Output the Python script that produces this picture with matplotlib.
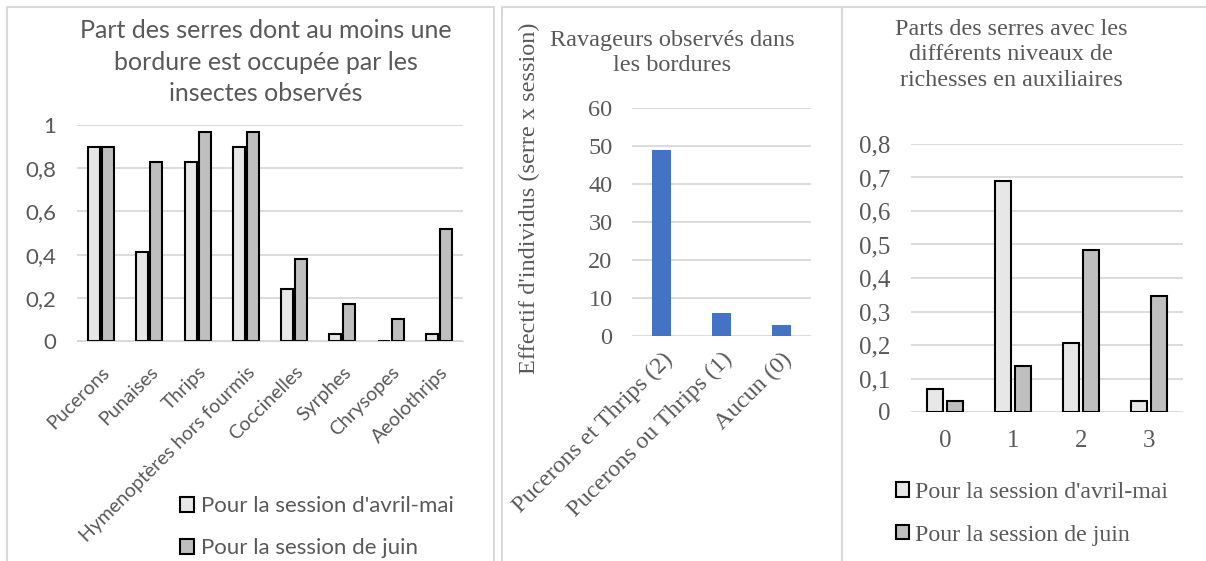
import numpy as np
import matplotlib.pyplot as plt
from matplotlib.lines import Line2D

# data
insectes = ["Pucerons", "Punaises", "Thrips", "Hymenoptères hors fourmis",
            "Coccinelles", "Syrphes", "Chrysopes", "Aeolothrips"]
part_avril_mai = [0.897, 0.414, 0.828, 0.897, 0.241, 0.034, 0.0, 0.034]
part_juin = [0.897, 0.828, 0.966, 0.966, 0.379, 0.172, 0.103, 0.517]

ravageurs = ["Pucerons et Thrips (2)", "Pucerons ou Thrips (1)", "Aucun (0)"]
effectifs = [49, 6, 3]

niveaux = ["0", "1", "2", "3"]
niv_avril_mai = [0.069, 0.690, 0.207, 0.034]
niv_juin = [0.034, 0.138, 0.483, 0.345]

legend_labels = ["Pour la session d'avril-mai", "Pour la session de juin"]

W, H = 1206, 561
GREY_TXT = "#595959"
GRID = "#d9d9d9"
LIGHT = "#e7e7e7"
DARK = "#bfbfbf"
SANS = "Lato"
SERIF = "Liberation Serif"

fig = plt.figure(figsize=(W / 100, H / 100), dpi=100)


def box(x0, y0, x1, y1):
    # pixel box (top-left origin) -> figure fraction rect
    return [x0 / W, 1 - y1 / H, (x1 - x0) / W, (y1 - y0) / H]


def style_axes(ax, font, size, ypad):
    ax.set_axisbelow(True)
    ax.grid(axis="y", color=GRID, linewidth=1.3)
    for s in ax.spines.values():
        s.set_visible(False)
    ax.tick_params(length=0, labelcolor=GREY_TXT, pad=ypad, axis="y")
    ax.tick_params(length=0, labelcolor=GREY_TXT, axis="x")
    for lab in ax.get_yticklabels() + ax.get_xticklabels():
        lab.set_fontfamily(font)
        lab.set_fontsize(size)


# panel frames (top + sides only, bottom is cut off)
for x0, x1 in [(7, 494), (502, 842), (842, 1230)]:
    fig.add_artist(Line2D([x0 / W, x0 / W, x1 / W, x1 / W], [0, 1 - 7 / H, 1 - 7 / H, 0],
                          transform=fig.transFigure, color=GRID, linewidth=1.5))

# ---- panel 1
ax1 = fig.add_axes(box(77, 125, 463, 341))
x = np.arange(len(insectes))
b1 = ax1.bar(x - 0.145, part_avril_mai, 0.25, color=LIGHT, edgecolor="black", linewidth=1.5)
b2 = ax1.bar(x + 0.145, part_juin, 0.25, color=DARK, edgecolor="black", linewidth=1.5)
ax1.set_xlim(-0.5, len(insectes) - 0.5)
ax1.set_ylim(0, 1)
ax1.set_yticks(np.arange(0, 1.01, 0.2))
ax1.set_yticklabels(["0", "0,2", "0,4", "0,6", "0,8", "1"])
ax1.set_xticks(x)
ax1.set_xticklabels(insectes, rotation=45, ha="right", rotation_mode="anchor")
style_axes(ax1, SANS, 16, 15)
for lab in ax1.get_xticklabels():
    lab.set_fontsize(14)
ax1.tick_params(axis="x", pad=16)
ax1.spines["bottom"].set_visible(True)
ax1.spines["bottom"].set_color(GRID)
fig.text(266 / W, 1 - 62 / H, "Part des serres dont au moins une\nbordure est occupée par les\ninsectes observés",
         ha="center", va="center", fontsize=18, family=SANS, color=GREY_TXT, linespacing=1.45)
fig.legend([b1, b2], legend_labels, loc="upper left", bbox_to_anchor=(180 / W, 1 - 496 / H),
           frameon=False, prop={"family": SANS, "size": 16}, labelcolor=GREY_TXT,
           handlelength=0.65, handleheight=0.65, handletextpad=0.3, labelspacing=1.0,
           borderpad=0, borderaxespad=0)

# ---- panel 2
ax2 = fig.add_axes(box(632, 108, 811, 336))
x2 = np.arange(len(ravageurs))
ax2.bar(x2, effectifs, 0.32, color="#4472c4")
ax2.set_xlim(-0.5, len(ravageurs) - 0.5)
ax2.set_ylim(0, 60)
ax2.set_yticks(range(0, 61, 10))
ax2.set_xticks(x2)
ax2.set_xticklabels(ravageurs, rotation=45, ha="right", rotation_mode="anchor")
style_axes(ax2, SERIF, 17.5, 14)
ax2.tick_params(axis="x", pad=9)
ax2.set_ylabel("Effectif d'individus (serre x session)", family=SERIF, fontsize=17.5,
               color=GREY_TXT)
ax2.yaxis.set_label_coords((540 - 632) / 179, (336 - 198) / 228)
fig.text(672 / W, 1 - 53 / H, "Ravageurs observés dans\nles bordures", ha="center", va="center",
         fontsize=17.5, family=SERIF, color=GREY_TXT, linespacing=1.25)

# ---- panel 3
ax3 = fig.add_axes(box(911, 144, 1183, 412))
x3 = np.arange(len(niveaux))
c1 = ax3.bar(x3 - 0.145, niv_avril_mai, 0.235, color=LIGHT, edgecolor="black", linewidth=1.5)
c2 = ax3.bar(x3 + 0.145, niv_juin, 0.235, color=DARK, edgecolor="black", linewidth=1.5)
ax3.set_xlim(-0.5, len(niveaux) - 0.5)
ax3.set_ylim(0, 0.8)
ax3.set_yticks(np.arange(0, 0.81, 0.1))
ax3.set_yticklabels(["0", "0,1", "0,2", "0,3", "0,4", "0,5", "0,6", "0,7", "0,8"])
ax3.set_xticks(x3)
ax3.set_xticklabels(niveaux)
style_axes(ax3, SERIF, 18, 15)
ax3.tick_params(axis="x", pad=13)
fig.text(1011 / W, 1 - 55 / H, "Parts des serres avec les\ndifférents niveaux de\nrichesses en auxiliaires",
         ha="center", va="center", fontsize=17.4, family=SERIF, color=GREY_TXT, linespacing=1.3)
fig.legend([c1, c2], legend_labels, loc="upper left", bbox_to_anchor=(896 / W, 1 - 482 / H),
           frameon=False, prop={"family": SERIF, "size": 17.2}, labelcolor=GREY_TXT,
           handlelength=0.55, handleheight=0.55, handletextpad=0.25, labelspacing=0.9,
           borderpad=0, borderaxespad=0)

fig.savefig("out.png", dpi=100)
